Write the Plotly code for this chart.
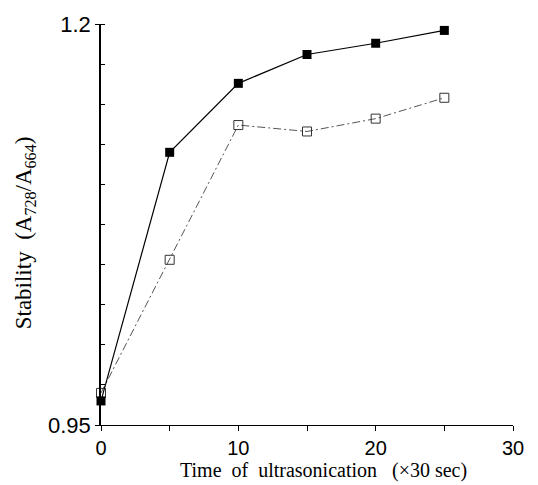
import plotly.graph_objects as go

time_x = [0, 5, 10, 15, 20, 25]
filled_y = [0.965, 1.120, 1.163, 1.181, 1.188, 1.196]
open_y = [0.970, 1.053, 1.137, 1.133, 1.141, 1.154]

x_ticks = [0, 10, 20, 30]
y_ticks = [0.95, 1.2]
y_tick_text = ["0.95", "1.2"]

NB = "\u00a0"
x_title = f"Time{NB}{NB}of{NB}{NB}ultrasonication{NB}{NB}{NB}(×30{NB}sec)"

fig = go.Figure()
fig.add_trace(go.Scatter(
    x=time_x, y=open_y, mode="lines+markers",
    line=dict(color="#555555", width=1, dash="8px,3px,2px,3px"),
    marker=dict(symbol="square-open", size=9, color="#333333", line=dict(width=1)),
    cliponaxis=False, showlegend=False))
fig.add_trace(go.Scatter(
    x=time_x, y=filled_y, mode="lines+markers",
    line=dict(color="black", width=1.2),
    marker=dict(symbol="square", size=9, color="black"),
    cliponaxis=False, showlegend=False))

fig.update_layout(
    width=538, height=485,
    margin=dict(l=101, r=25, t=15, b=60),
    paper_bgcolor="white", plot_bgcolor="white",
    font=dict(family="Liberation Sans, Arial, sans-serif", color="black", size=18),
    xaxis=dict(range=[0, 30], tickvals=x_ticks, ticks="outside", ticklen=5,
               tickwidth=1, tickcolor="black", showline=True, linecolor="black",
               linewidth=1, showgrid=False, zeroline=False,
               minor=dict(dtick=5, tick0=0, ticks="outside", ticklen=5,
                          tickcolor="black", showgrid=False),
               tickfont=dict(size=20)),
    yaxis=dict(range=[0.95, 1.2], tickvals=y_ticks, ticktext=y_tick_text,
               ticks="outside", ticklen=4, tickwidth=1, tickcolor="black",
               showline=True, linecolor="black", linewidth=1.5, showgrid=False,
               zeroline=False,
               minor=dict(dtick=0.025, tick0=0.95, ticks="inside", ticklen=4,
                          tickcolor="black", showgrid=False),
               tickfont=dict(size=22)),
    annotations=[
        dict(text=x_title, xref="paper", yref="paper",
             x=0.541, y=-0.145, xanchor="center", yanchor="bottom", showarrow=False,
             borderpad=0,
             font=dict(family="Liberation Serif, Times New Roman, serif", size=20)),
        dict(text="Stability  (A<sub>728</sub>/A<sub>664</sub>)", xref="paper", yref="paper",
             x=-0.185, y=0.48, xanchor="center", yanchor="middle", textangle=-90,
             showarrow=False,
             font=dict(family="Liberation Serif, Times New Roman, serif", size=23)),
    ],
)

fig.write_html("out.html")
